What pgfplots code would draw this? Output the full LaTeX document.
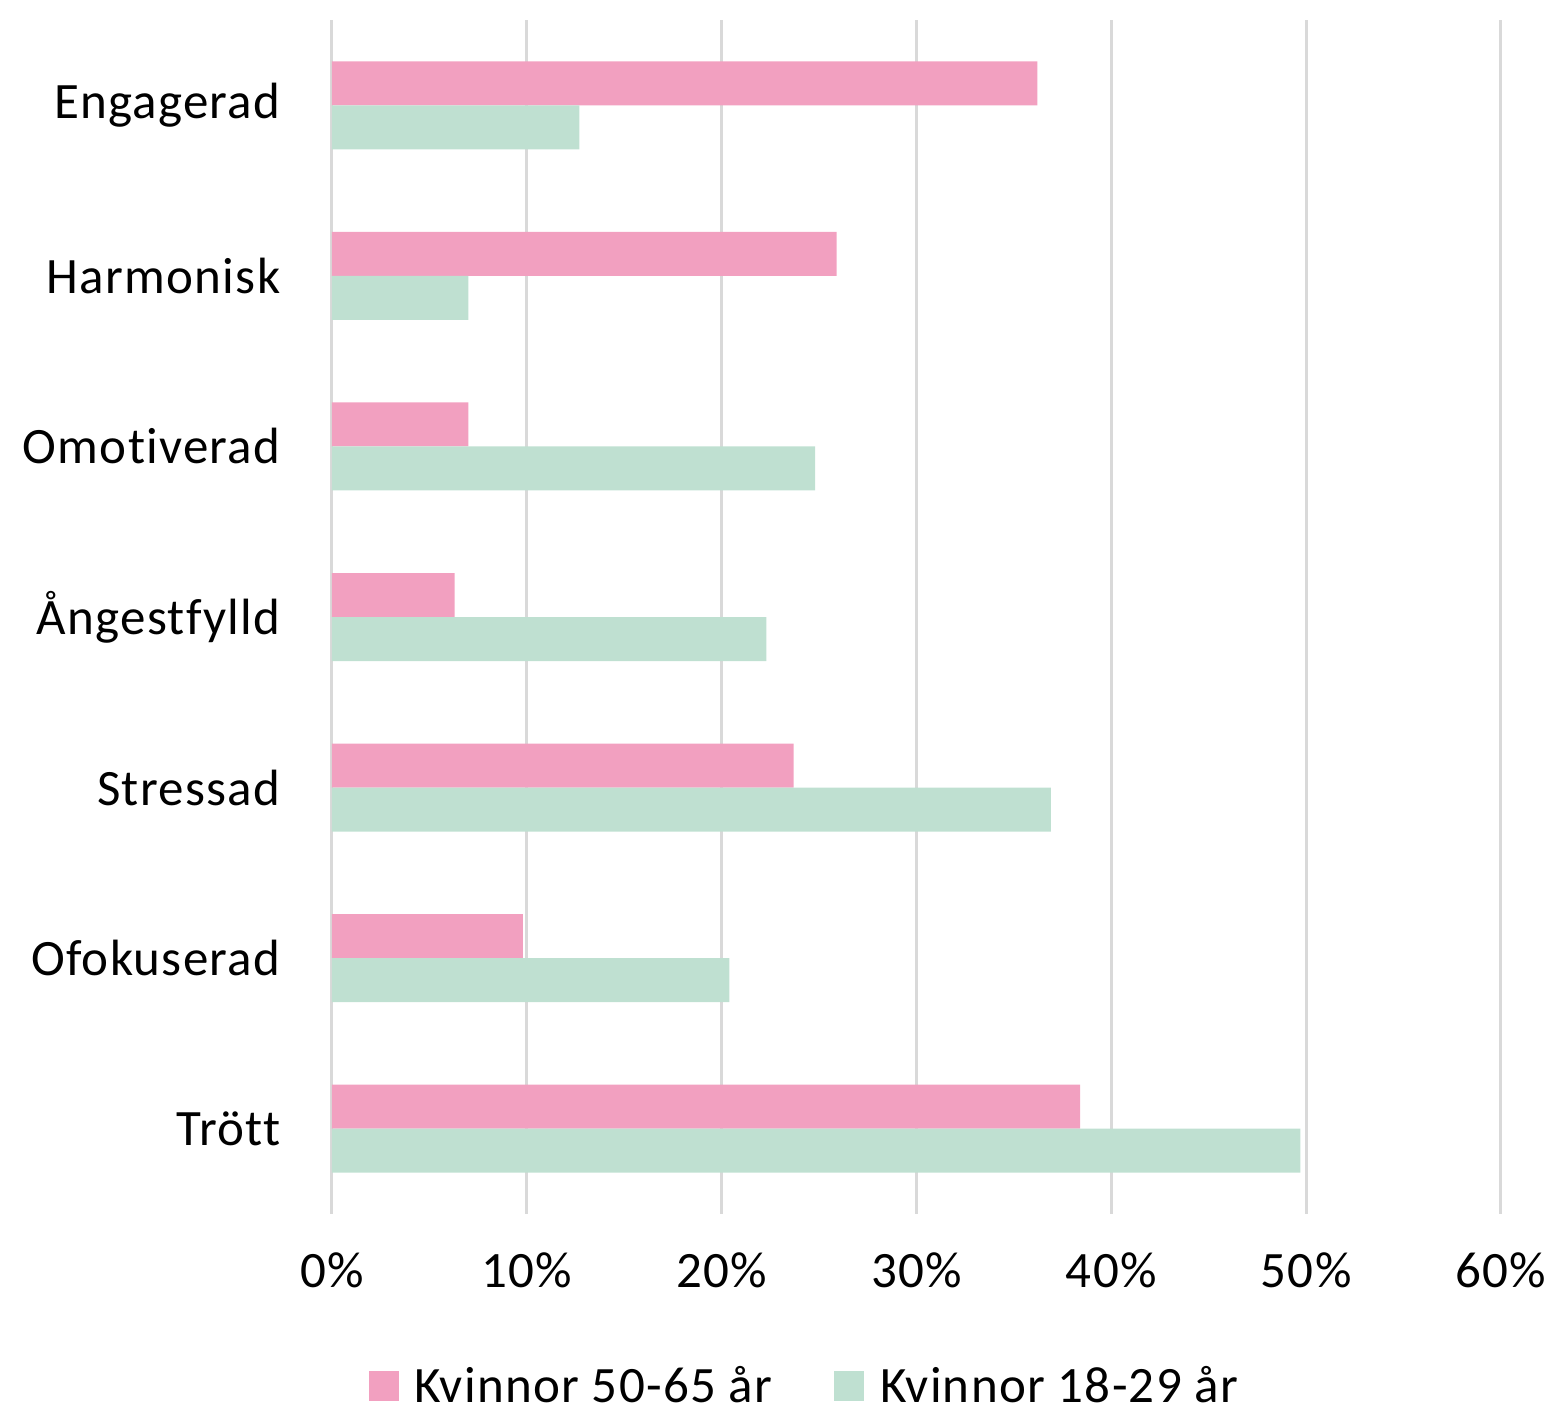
\documentclass[border=0pt]{standalone}
\usepackage{pgfplots}
\pgfplotsset{compat=1.18}
\usepackage{fontspec}
\setmainfont{Carlito}[Ligatures=NoCommon, LetterSpace=2.5]

\definecolor{barpink}{RGB}{242,160,192}
\definecolor{bargreen}{RGB}{191,224,209}
\definecolor{gridgray}{RGB}{217,217,217}

\begin{document}
\begin{tikzpicture}
\begin{axis}[
    at={(0,0)}, anchor=south west,
    scale only axis,
    width=584.5pt, height=597pt,
    xmin=0, xmax=60,
    ymin=-0.5, ymax=6.5,
    y dir=reverse,
    xbar, bar width=0.258,
    xtick={0,10,20,30,40,50,60},
    xticklabels={0\%,10\%,20\%,30\%,40\%,50\%,60\%},
    ytick={0,1,2,3,4,5,6},
    yticklabels={Engagerad,Harmonisk,Omotiverad,Ångestfylld,Stressad,Ofokuserad,Trött},
    xmajorgrids,
    major grid style={draw=gridgray, line width=1.5pt},
    axis line style={draw=none},
    tick style={draw=none},
    font=\fontsize{25.5}{30}\selectfont,
    xticklabel style={yshift=-16pt},
    yticklabel style={xshift=-18pt},
    legend style={at={(0.405,-0.144)}, anchor=center, draw=none,
        font=\fontsize{25.5}{30}\selectfont,
        /tikz/every odd column/.append style={column sep=6pt},
        /tikz/every even column/.append style={column sep=29pt}},
    legend columns=2,
    legend image code/.code={\fill[#1] (0pt,-7.5pt) rectangle (15pt,7.5pt);},
]
\addplot[fill=barpink, draw=none, bar shift=-0.129] coordinates {
    (36.2,0) (25.9,1) (7.0,2) (6.3,3) (23.7,4) (9.8,5) (38.4,6)};
\addlegendentry{Kvinnor 50-65 år}
\addplot[fill=bargreen, draw=none, bar shift=0.129] coordinates {
    (12.7,0) (7.0,1) (24.8,2) (22.3,3) (36.9,4) (20.4,5) (49.7,6)};
\addlegendentry{Kvinnor 18-29 år}
\end{axis}
\pgfresetboundingbox
\path (-166pt,-96.5pt) rectangle (613pt,607pt);
\end{tikzpicture}
\end{document}
